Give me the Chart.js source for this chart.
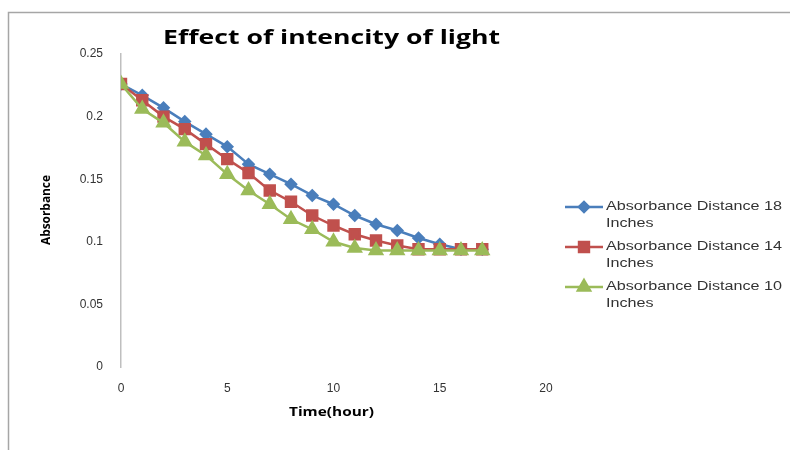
<!DOCTYPE html>
<html>
<head>
<meta charset="utf-8">
<script src="https://cdn.jsdelivr.net/npm/chart.js@4/dist/chart.umd.min.js"></script>
<style>
  html, body { margin: 0; padding: 0; background: #fff; }
  #wrap { width: 790px; height: 450px; }
</style>
</head>
<body>
<div id="wrap"><canvas id="chart" width="790" height="450"></canvas></div>
<script>
const hours = [0, 1, 2, 3, 4, 5, 6, 7, 8, 9, 10, 11, 12, 13, 14, 15, 16, 17];
const dist18 = [0.226, 0.217, 0.207, 0.196, 0.186, 0.176, 0.162, 0.154, 0.146, 0.137, 0.130, 0.121, 0.114, 0.109, 0.103, 0.098, 0.094, 0.094];
const dist14 = [0.226, 0.213, 0.200, 0.190, 0.178, 0.166, 0.155, 0.141, 0.132, 0.121, 0.113, 0.106, 0.101, 0.097, 0.094, 0.094, 0.094, 0.094];
const dist10 = [0.226, 0.206, 0.195, 0.180, 0.169, 0.154, 0.141, 0.130, 0.118, 0.110, 0.100, 0.095, 0.093, 0.093, 0.093, 0.093, 0.093, 0.093];
const seriesNames = [['Absorbance Distance 18', 'Inches'], ['Absorbance Distance 14', 'Inches'], ['Absorbance Distance 10', 'Inches']];
const xTicks = [0, 5, 10, 15, 20];
const yTicks = [0, 0.05, 0.1, 0.15, 0.2, 0.25];

const toPoints = vals => vals.map((v, i) => ({ x: hours[i], y: v }));

// the reference text is wide, so squeeze/stretch it to the measured width
function wideText(ctx, text, x, y, k) {
    ctx.save();
    ctx.translate(x, y);
    ctx.scale(k, 1);
    ctx.fillText(text, 0, 0);
    ctx.restore();
}

// frame, title, axis titles and the wrapped legend
const extras = {
    id: 'extras',
    beforeDraw(chart) {
        const ctx = chart.ctx;
        ctx.save();
        ctx.strokeStyle = '#a6a6a6';
        ctx.lineWidth = 1.5;
        ctx.beginPath();
        ctx.moveTo(8.5, 452);
        ctx.lineTo(8.5, 12.5);
        ctx.lineTo(792, 12.5);
        ctx.stroke();
        ctx.restore();
    },
    afterDraw(chart) {
        const ctx = chart.ctx;
        ctx.save();
        ctx.fillStyle = '#000';
        ctx.textAlign = 'center';
        ctx.textBaseline = 'middle';

        let t = 'Effect of intencity of light';
        ctx.font = 'bold 20px "Open Sans"';
        wideText(ctx, t, 331.5, 38, 337 / ctx.measureText(t).width);

        t = 'Time(hour)';
        ctx.font = 'bold 12px "Open Sans"';
        wideText(ctx, t, 331.5, 413, 85 / ctx.measureText(t).width);

        t = 'Absorbance';
        ctx.font = 'bold 12px "Liberation Sans Narrow", "Open Sans"';
        ctx.save();
        ctx.translate(47, 210);
        ctx.rotate(-Math.PI / 2);
        wideText(ctx, t, 0, 0, 70 / ctx.measureText(t).width);
        ctx.restore();
        ctx.restore();

        // legend
        ctx.save();
        const rows = [207, 247, 287];
        chart.data.datasets.forEach((ds, i) => {
            const y = rows[i];
            ctx.strokeStyle = ds.borderColor;
            ctx.lineWidth = 2.5;
            ctx.beginPath();
            ctx.moveTo(565, y);
            ctx.lineTo(603, y);
            ctx.stroke();
            Chart.helpers.drawPoint(ctx, {
                pointStyle: ds.pointStyle,
                radius: ds.pointRadius,
                rotation: 0,
                borderWidth: 1
            }, 584, y);
            ctx.fillStyle = ds.borderColor;
            ctx.fill();
            ctx.fillStyle = '#333';
            ctx.textAlign = 'left';
            ctx.textBaseline = 'middle';
            ctx.font = '12px "Liberation Sans"';
            const k = 176 / ctx.measureText(seriesNames[i][0]).width;
            seriesNames[i].forEach((line, j) => wideText(ctx, line, 606, y + j * 16.5, k));
        });
        ctx.restore();
    }
};

const mk = (label, data, color, style, r, order) => ({
    label,
    data: toPoints(data),
    borderColor: color,
    backgroundColor: color,
    pointBackgroundColor: color,
    pointBorderColor: color,
    borderWidth: 2.5,
    pointStyle: style,
    pointRadius: r,
    pointHoverRadius: r,
    order,
    tension: 0
});

new Chart(document.getElementById('chart'), {
    type: 'line',
    data: {
        datasets: [
            mk(seriesNames[0].join(' '), dist18, '#4a7ebb', 'rectRot', 5, 3),
            mk(seriesNames[1].join(' '), dist14, '#c0504d', 'rect', 7, 2),
            mk(seriesNames[2].join(' '), dist10, '#9bbb59', 'triangle', 7, 1)
        ]
    },
    options: {
        responsive: false,
        animation: false,
        layout: { padding: { left: 0, top: 54, right: 244, bottom: 0 } },
        plugins: { legend: { display: false }, tooltip: { enabled: false } },
        scales: {
            x: {
                type: 'linear',
                min: 0,
                max: 20,
                afterBuildTicks: s => { s.ticks = xTicks.map(v => ({ value: v })); },
                afterFit: s => { s.height = 83; },
                grid: { display: false, drawTicks: false },
                border: { display: false },
                ticks: { padding: 14, color: '#333', font: { family: 'Liberation Sans', size: 12 }, maxRotation: 0 }
            },
            y: {
                min: 0,
                max: 0.25,
                afterBuildTicks: s => { s.ticks = yTicks.map(v => ({ value: v })); },
                afterFit: s => { s.width = 121; },
                grid: { display: false, drawTicks: false },
                border: { display: true, color: '#bfbfbf', width: 1.5 },
                ticks: { padding: 18, color: '#333', font: { family: 'Liberation Sans', size: 12 }, callback: v => String(v) }
            }
        }
    },
    plugins: [extras]
});
</script>
</body>
</html>
